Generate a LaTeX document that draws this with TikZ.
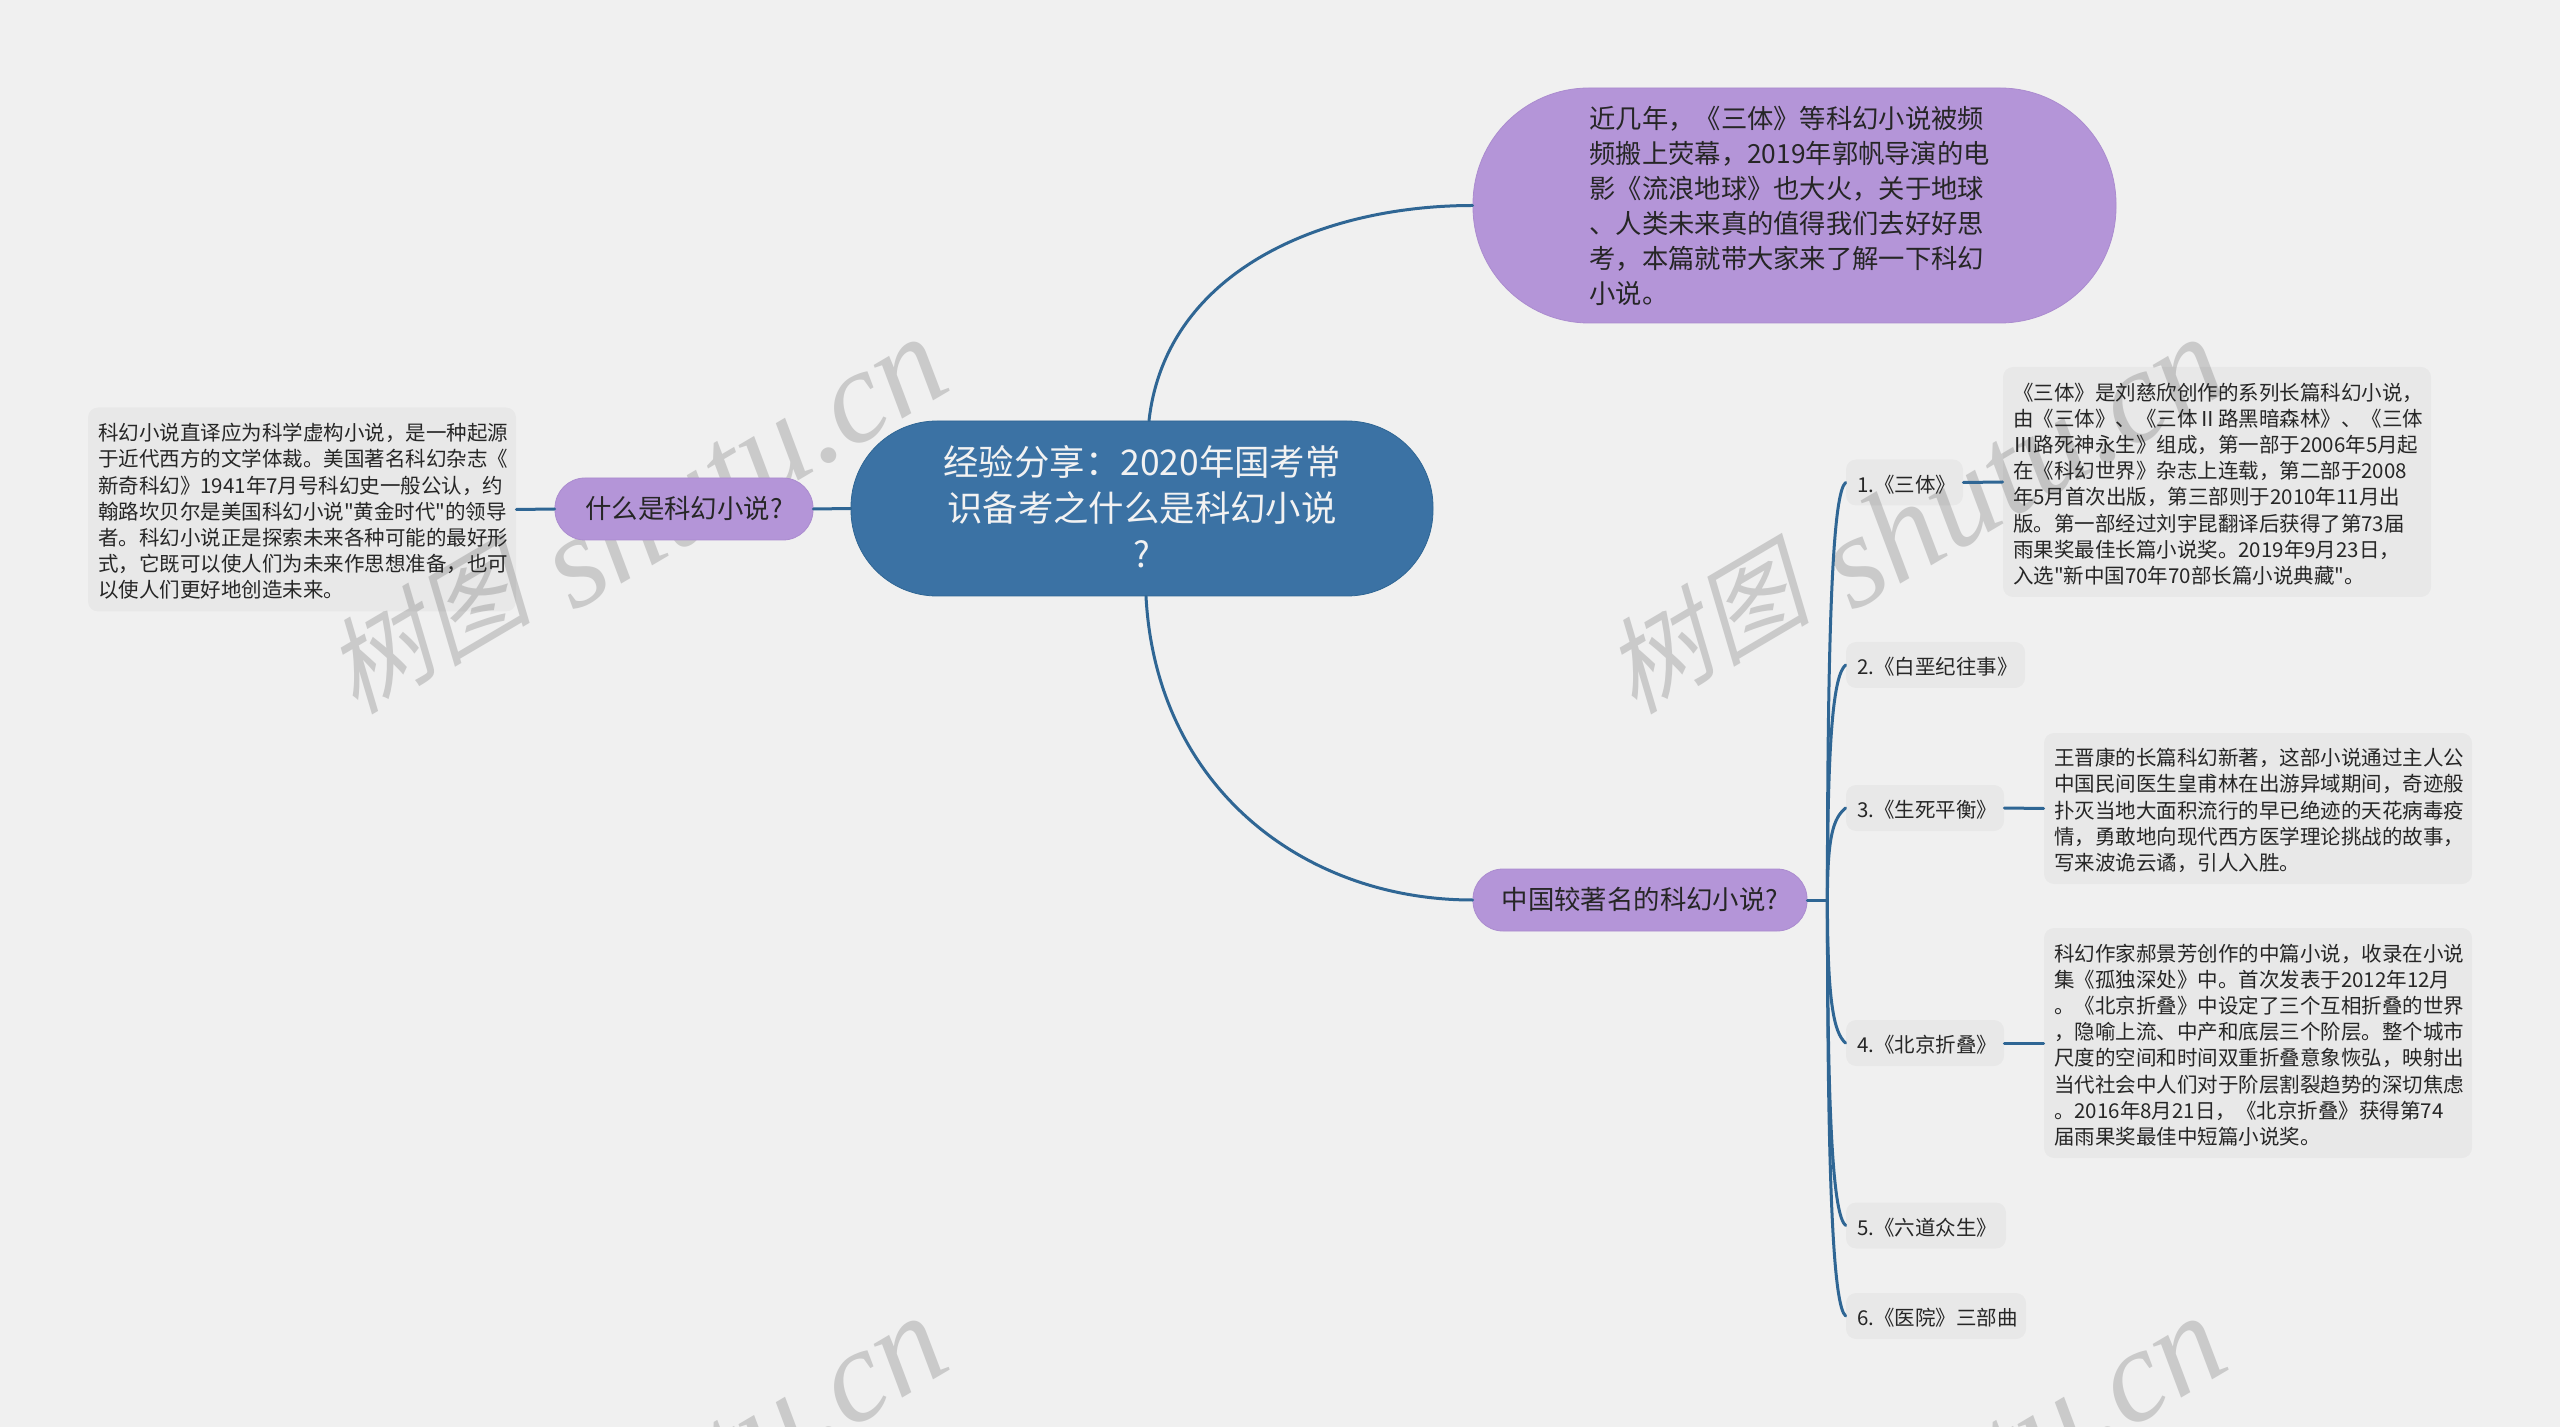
\documentclass[tikz,border=0pt]{standalone}
\usepackage{fontspec}
\usetikzlibrary{calc}
\newfontfamily\cjkmain{Noto Sans CJK SC}
\newfontfamily\wmcjk[FakeSlant=0.25]{Noto Sans CJK SC}
\newfontfamily\wmlat{Liberation Serif}
\AtBeginDocument{\cjkmain}
\definecolor{bgc}{HTML}{F0F0F0}
\definecolor{purp}{HTML}{B495D8}
\definecolor{purpe}{HTML}{AB8CCF}
\definecolor{bluec}{HTML}{3B72A4}
\definecolor{linec}{HTML}{2F6694}
\definecolor{wmc}{HTML}{CACACA}
\definecolor{txt}{HTML}{262626}
\tikzset{
  x=0.5pt,y=-0.5pt,
  link/.style={draw=linec,line width=1.5pt,line cap=round},
  pill/.style={draw=purpe,line width=0.4pt,fill=purp,inner sep=0pt,text=txt,align=center},
  rootbox/.style={draw=linec,line width=0.4pt,fill=bluec,inner sep=0pt,text=white!95!black,align=center,rounded corners=43pt,font=\fontsize{17.7}{23}\selectfont},
  note/.style={fill=black,fill opacity=0.03,text opacity=1,text=txt,inner sep=0pt,rounded corners=5pt,font=\fontsize{10.25}{13.1}\selectfont},
  item/.style={note,minimum height=23pt},
  wm/.style={text=wmc,rotate=30.5,inner sep=0pt},
}
\newcommand{\cm}{^^^^ff0c}
\newcommand{\cl}{^^^^ff1a}
\newcommand{\txtb}[2]{\raisebox{-1pt}[\height][\depth]{\parbox{#1}{\raggedright #2}}}
\newcommand{\txtu}[3]{\raisebox{#1}[\height][\depth]{\parbox{#2}{\centering #3}}}
\newcommand{\wmtext}{\raisebox{11pt}{\wmcjk\fontsize{52}{52}\selectfont 树图}\hspace{16pt}{\wmlat\itshape\fontsize{66}{66}\selectfont shutu.cn}}
\begin{document}
\begin{tikzpicture}
\useasboundingbox[fill=bgc] (0,0) rectangle (2560,1427);
\begin{scope}
\clip (0,0) rectangle (2560,1427);
\node[wm] (wa) at (634,515) {\wmtext};
\node[wm] (wb) at (1913,515) {\wmtext};
\node[wm] (wc) at (634,1494) {\wmtext};
\node[wm] (wd) at (1913,1494) {\wmtext};
\end{scope}

\node[rootbox,minimum width=291pt,minimum height=87.5pt] (root) at (1142,508.5)
  {\txtu{0.8pt}{280pt}{经验分享\cl{}2020年国考常\\识备考之什么是科幻小说\\?}};
\node[pill,rounded corners=58pt,minimum width=321.5pt,minimum height=117.5pt,font=\fontsize{13.15}{17.5}\selectfont] (top) at (1794.5,205.5)
  {\parbox{205pt}{\raggedright 近几年\cm{}《三体》等科幻小说被频\\频搬上荧幕\cm{}2019年郭帆导演的电\\影《流浪地球》也大火\cm{}关于地球\\、人类未来真的值得我们去好好思\\考\cm{}本篇就带大家来了解一下科幻\\小说。}};
\node[pill,rounded corners=15pt,minimum width=129pt,minimum height=31pt,font=\fontsize{13.2}{16}\selectfont] (lp) at (684,509) {\txtu{0.5pt}{120pt}{什么是科幻小说?}};
\node[pill,rounded corners=15pt,minimum width=167pt,minimum height=31pt,font=\fontsize{13.2}{16}\selectfont] (pb) at (1640,900) {\txtu{0.5pt}{160pt}{中国较著名的科幻小说?}};

\node[note,minimum width=214pt,minimum height=102pt] (lt) at (302,509.5)
  {\txtb{204pt}{科幻小说直译应为科学虚构小说\cm{}是一种起源\\于近代西方的文学体裁。美国著名科幻杂志《\\新奇科幻》1941年7月号科幻史一般公认\cm{}约\\翰路坎贝尔是美国科幻小说"黄金时代"的领导\\者。科幻小说正是探索未来各种可能的最好形\\式\cm{}它既可以使人们为未来作思想准备\cm{}也可\\以使人们更好地创造未来。}};

\node[item,minimum width=58.5pt] (i1) at (1904.5,482.5) {\txtb{47.5pt}{1.《三体》}};
\node[item,minimum width=89.5pt] (i2) at (1935.5,665) {\txtb{78.5pt}{2.《白垩纪往事》}};
\node[item,minimum width=79pt] (i3) at (1925,808) {\txtb{68pt}{3.《生死平衡》}};
\node[item,minimum width=79pt] (i4) at (1925,1043) {\txtb{68pt}{4.《北京折叠》}};
\node[item,minimum width=80pt] (i5) at (1926,1225.5) {\txtb{69pt}{5.《六道众生》}};
\node[item,minimum width=90pt] (i6) at (1936,1316) {\txtb{79pt}{6.《医院》三部曲}};

\node[note,minimum width=214pt,minimum height=115pt] (t1) at (2217,482)
  {\txtb{204pt}{《三体》是刘慈欣创作的系列长篇科幻小说\cm{}\\由《三体》、《三体Ⅱ路黑暗森林》、《三体\\Ⅲ路死神永生》组成\cm{}第一部于2006年5月起\\在《科幻世界》杂志上连载\cm{}第二部于2008\\年5月首次出版\cm{}第三部则于2010年11月出\\版。第一部经过刘宇昆翻译后获得了第73届\\雨果奖最佳长篇小说奖。2019年9月23日\cm{}\\入选"新中国70年70部长篇小说典藏"。}};
\node[note,minimum width=214pt,minimum height=75.5pt] (t3) at (2258,808.5)
  {\txtb{204pt}{王晋康的长篇科幻新著\cm{}这部小说通过主人公\\中国民间医生皇甫林在出游异域期间\cm{}奇迹般\\扑灭当地大面积流行的早已绝迹的天花病毒疫\\情\cm{}勇敢地向现代西方医学理论挑战的故事\cm{}\\写来波诡云谲\cm{}引人入胜。}};
\node[note,minimum width=214pt,minimum height=115pt] (t4) at (2258,1043)
  {\txtb{204pt}{科幻作家郝景芳创作的中篇小说\cm{}收录在小说\\集《孤独深处》中。首次发表于2012年12月\\。《北京折叠》中设定了三个互相折叠的世界\\\cm{}隐喻上流、中产和底层三个阶层。整个城市\\尺度的空间和时间双重折叠意象恢弘\cm{}映射出\\当代社会中人们对于阶层割裂趋势的深切焦虑\\。2016年8月21日\cm{}《北京折叠》获得第74\\届雨果奖最佳中短篇小说奖。}};

\coordinate (tr) at ($(pb.east)+(20,0)$);
\draw[link] ([xshift=3.5pt]root.north) .. controls ++(17,-150) and ++(-150,0) .. (top.west);
\draw[link] ([xshift=2pt]root.south) .. controls ++(10,190) and ++(-170,0) .. (pb.west);
\draw[link] (root.west) -- (lp.east);
\draw[link] (lp.west) -- (lt.east);
\draw[link] (pb.east) -- (tr);
\draw[link] (tr) .. controls ++(0,-293) and ++(-12,10) .. (i1.west);
\draw[link] (tr) .. controls ++(0,-165) and ++(-12,10) .. (i2.west);
\draw[link] (tr) .. controls ++(0,-65) and ++(-12,10) .. (i3.west);
\draw[link] (tr) .. controls ++(0,100) and ++(-12,-10) .. (i4.west);
\draw[link] (tr) .. controls ++(0,228) and ++(-12,-10) .. (i5.west);
\draw[link] (tr) .. controls ++(0,291) and ++(-12,-10) .. (i6.west);
\draw[link] (i1.east) -- (t1.west);
\draw[link] (i3.east) -- (t3.west);
\draw[link] (i4.east) -- (t4.west);
\end{tikzpicture}
\end{document}
